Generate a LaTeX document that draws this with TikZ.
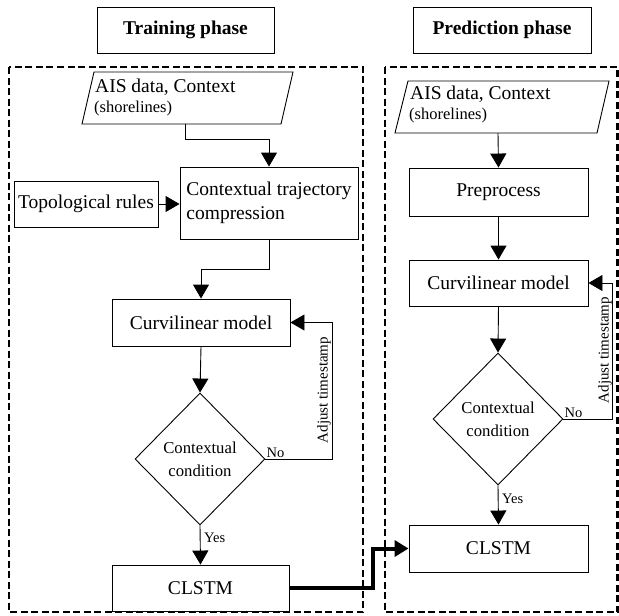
\documentclass[tikz,border=0pt]{standalone}
\usepackage{fontspec}
\setmainfont{Liberation Serif}
\usetikzlibrary{arrows.meta,shapes.geometric}
\begin{document}
\begin{tikzpicture}[x=1pt,y=-1pt,
  box/.style={draw, line width=0.9pt, inner sep=0pt, font=\fontsize{19.5}{24}\selectfont, align=center},
  dia/.style={draw, diamond, line width=0.9pt, inner sep=0pt, minimum width=130pt, minimum height=132pt, font=\fontsize{16.7}{23}\selectfont, align=center},
  arr/.style={line width=0.9pt, -{Triangle[length=14pt,width=16pt]}},
  thickarr/.style={line width=4pt, -{Triangle[length=14pt,width=16pt]}},
  phase/.style={draw, dash pattern=on 7pt off 3.5pt, line width=2.2pt},
  lbl/.style={font=\fontsize{14.5}{16}\selectfont, inner sep=1pt},
  adj/.style={font=\fontsize{15}{17}\selectfont, rotate=90, inner sep=0pt},
  big/.style={font=\fontsize{19.5}{24}\selectfont, inner sep=0pt},
  small/.style={font=\fontsize{16.5}{20}\selectfont, inner sep=0pt},
  para/.style={draw, line width=0.9pt}
]
\useasboundingbox (0,0) rectangle (619,616);

% phase frames
\draw[phase] (9,67) rectangle (363,612);
\draw[phase] (385,67) rectangle (617.5,612);

% titles
\node[box, minimum width=177pt, minimum height=46pt] (train) at (185.5,30) {\bfseries Training phase};
\node[box, minimum width=178pt, minimum height=46pt] (pred) at (502,30) {\bfseries Prediction phase};

% ---------- training ----------
\draw[para] (94,72) -- (293,72) -- (281,124) -- (82,124) -- cycle;
\coordinate (aisLout) at (185,124);
\node[big, anchor=base west] (aisLt) at (95,92) {AIS data, Context};
\node[small, anchor=base west] (aisLs) at (94,112) {(shorelines)};

\node[box, minimum width=144pt, minimum height=46pt] (topo) at (86,204) {Topological rules};
\node[box, minimum width=178pt, minimum height=72pt, align=left] (comp) at (269,203) {Contextual trajectory\\compression};
\node[box, minimum width=178pt, minimum height=47pt] (curvL) at (201,322.5) {Curvilinear model};
\node[dia] (diaL) at (200,459) {Contextual\\condition};
\node[box, minimum width=177pt, minimum height=46pt] (clstmL) at (200.5,588) {CLSTM};

\draw[arr] (aisLout) -- ++(0,15) -| (comp.north);
\draw[arr] (topo.east) -- (topo.east -| comp.west);
\draw[arr] (comp.south) -- ++(0,30) -| (curvL.north);
\draw[arr] (curvL.south) -- (diaL.north);
\draw[arr] (diaL.east) -- ++(67,0) |- (curvL.east);
\node[lbl, anchor=south west] (noL) at (diaL.east) {No};
\node[adj] (adjL) at (324,390) {Adjust timestamp};
\draw[arr] (diaL.south) -- (clstmL.north);
\node[lbl, anchor=west] (yesL) at (203,538) {Yes};

% ---------- prediction ----------
\draw[para] (408,81) -- (609,81) -- (597,133) -- (395,133) -- cycle;
\coordinate (aisRout) at (498,133);
\node[big, anchor=base west] (aisRt) at (410,99) {AIS data, Context};
\node[small, anchor=base west] (aisRs) at (409,119) {(shorelines)};

\node[box, minimum width=179pt, minimum height=48pt] (prep) at (498.5,192) {Preprocess};
\node[box, minimum width=179pt, minimum height=46pt] (curvR) at (498.5,283) {Curvilinear model};
\node[dia] (diaR) at (498,419) {Contextual\\condition};
\node[box, minimum width=179pt, minimum height=47pt] (clstmR) at (498.5,548.5) {CLSTM};

\draw[arr] (aisRout) -- (prep.north);
\draw[arr] (prep.south) -- (curvR.north);
\draw[arr] (curvR.south) -- (diaR.north);
\draw[arr] (diaR.east) -- ++(49,0) |- (curvR.east);
\node[lbl, anchor=south west] (noR) at (diaR.east) {No};
\node[adj] (adjR) at (605,350) {Adjust timestamp};
\draw[arr] (diaR.south) -- (clstmR.north);
\node[lbl, anchor=west] (yesR) at (501,499) {Yes};

% link between phases
\draw[thickarr] (clstmL.east) -- ++(84,0) |- (clstmR.west);
\end{tikzpicture}
\end{document}
